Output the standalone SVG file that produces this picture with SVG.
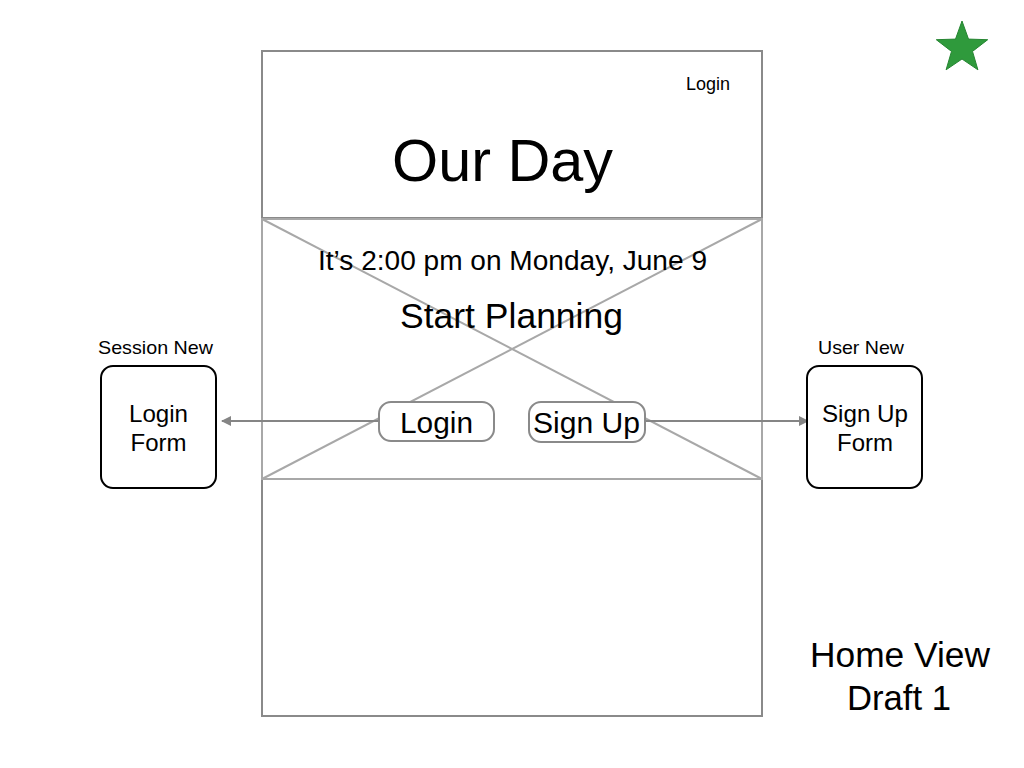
<svg xmlns="http://www.w3.org/2000/svg" width="1024" height="768" viewBox="0 0 1024 768">
<defs>
<style>
text{font-family:"Liberation Sans",Arial,sans-serif;fill:#000;text-anchor:middle}
.frame{fill:none;stroke:#8a8a8a;stroke-width:2}
.ph{fill:none;stroke:#a8a8a8;stroke-width:2}
.btn{fill:#fff;stroke:#8a8a8a;stroke-width:2}
.node{fill:#fff;stroke:#000;stroke-width:2}
.conn{stroke:#858585;stroke-width:2;fill:none}
</style>
<marker id="arr" viewBox="0 0 10 10" refX="9" refY="5" markerWidth="5" markerHeight="5" orient="auto-start-reverse" markerUnits="strokeWidth">
<path d="M0,0 L10,5 L0,10 z" fill="#858585"/>
</marker>
</defs>
<rect width="1024" height="768" fill="#fff"/>
<g id="page">
<rect class="frame" x="262" y="51" width="500" height="665"/>
<line class="frame" x1="262" y1="218" x2="762" y2="218"/>
<text x="708" y="90" font-size="18" textLength="44" lengthAdjust="spacingAndGlyphs">Login</text>
<text x="502.5" y="181" font-size="60" textLength="221" lengthAdjust="spacingAndGlyphs">Our Day</text>
</g>
<g id="image-placeholder">
<rect class="ph" x="262" y="219" width="500" height="260"/>
<line class="ph" x1="262" y1="219" x2="762" y2="479"/>
<line class="ph" x1="762" y1="219" x2="262" y2="479"/>
<text x="512.5" y="270" font-size="27" textLength="389" lengthAdjust="spacingAndGlyphs">It’s 2:00 pm on Monday, June 9</text>
<text x="511.5" y="328" font-size="35" textLength="223" lengthAdjust="spacingAndGlyphs">Start Planning</text>
</g>
<g id="connectors">
<line class="conn" x1="379" y1="421" x2="222" y2="421" marker-end="url(#arr)"/>
<line class="conn" x1="645" y1="421" x2="808" y2="421" marker-end="url(#arr)"/>
</g>
<g id="btn-login">
<rect class="btn" x="379" y="402" width="115" height="39" rx="12"/>
<text x="436.5" y="433" font-size="30" textLength="73" lengthAdjust="spacingAndGlyphs">Login</text>
</g>
<g id="btn-signup">
<rect class="btn" x="529" y="402" width="116" height="40" rx="12"/>
<text x="586.5" y="433" font-size="30" textLength="107" lengthAdjust="spacingAndGlyphs">Sign Up</text>
</g>
<g id="session-new">
<text x="155.5" y="354" font-size="19" textLength="115" lengthAdjust="spacingAndGlyphs">Session New</text>
<rect class="node" x="101" y="366" width="115" height="122" rx="12"/>
<text x="158.5" y="422" font-size="24" textLength="59" lengthAdjust="spacingAndGlyphs">Login</text>
<text x="158.5" y="451" font-size="24">Form</text>
</g>
<g id="user-new">
<text x="861" y="354" font-size="19" textLength="86" lengthAdjust="spacingAndGlyphs">User New</text>
<rect class="node" x="807" y="366" width="115" height="122" rx="12"/>
<text x="865" y="422" font-size="24" textLength="86" lengthAdjust="spacingAndGlyphs">Sign Up</text>
<text x="865" y="451" font-size="24">Form</text>
</g>
<g id="caption">
<text x="900" y="667" font-size="35" textLength="180" lengthAdjust="spacingAndGlyphs">Home View</text>
<text x="899" y="710" font-size="35" textLength="104" lengthAdjust="spacingAndGlyphs">Draft 1</text>
</g>
<g id="star">
<polygon points="962,21 968.5,39.1 987.7,39.7 972.5,51.4 977.9,69.8 962,59 946.1,69.8 951.5,51.4 936.3,39.7 955.5,39.1" fill="#2f9a3c" stroke="#268532" stroke-width="1"/>
</g>
</svg>
